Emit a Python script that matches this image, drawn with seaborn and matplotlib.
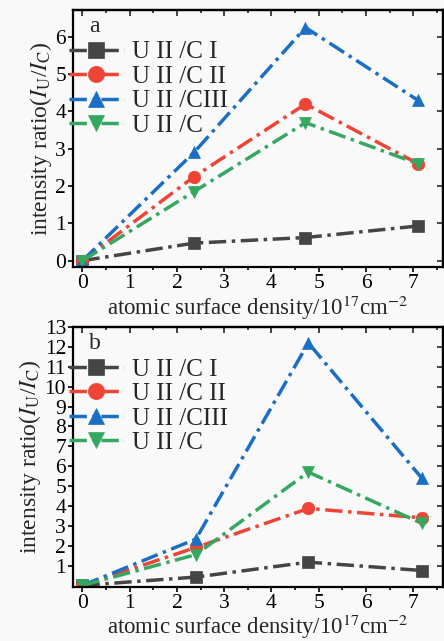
import numpy as np
import pandas as pd
import matplotlib
matplotlib.use("Agg")
import matplotlib.pyplot as plt
import seaborn as sns
from matplotlib.ticker import MultipleLocator

sns.set_theme(style="ticks")
plt.rcParams['font.family'] = ['Liberation Serif', 'DejaVu Serif']
plt.rcParams['mathtext.fontset'] = 'stix'

# ---- data ----
labels = ["U II /C I", "U II /C II", "U II /CIII", "U II /C"]
x_a = [0, 2.36, 4.72, 7.1]
a_c1 = [0, 0.47, 0.62, 0.93]
a_c2 = [0, 2.25, 4.2, 2.6]
a_c3 = [0, 2.9, 6.25, 4.3]
a_c = [0, 1.85, 3.7, 2.6]

x_b = [0, 2.4, 4.78, 7.18]
b_c1 = [0, 0.42, 1.17, 0.75]
b_c2 = [0, 1.91, 3.87, 3.4]
b_c3 = [0, 2.33, 12.2, 5.4]
b_c = [0, 1.55, 5.7, 3.12]

colors = ["#454545", "#ee4436", "#1a6fc4", "#34a860"]
markers = ["s", "o", "^", "v"]

xlabel = "atomic surface density/10$^{17}$cm$^{-2}$"
ylabel = "intensity ratio($I_{\\rm U}$/$I_{\\rm C}$)"

bg = "#f9f9f9"
fig = plt.figure(figsize=(4.44, 6.41), dpi=100, facecolor=bg)
ax_a = fig.add_axes([73/444, 1-267/641, 370/444, 257/641])
ax_b = fig.add_axes([73/444, 1-587/641, 370/444, 260/641])

def draw(ax, xs, series, ylim, yticks, panel, xlabelpad):
    ax.set_facecolor(bg)
    for vals, lab, col, mk in zip(series, labels, colors, markers):
        sns.lineplot(x=xs, y=vals, ax=ax, color=col, marker=mk, markersize=9,
                     markeredgecolor=col, markeredgewidth=0.5, linewidth=2.5,
                     linestyle=(0, (5, 1.6, 1.0, 1.6)), label=lab, legend=False)
    ax.set_xlim(-0.2, 7.63)
    ax.set_ylim(*ylim)
    ax.set_xticks(range(0, 8))
    ax.xaxis.set_minor_locator(MultipleLocator(0.5))
    ax.set_yticks(yticks)
    ax.tick_params(axis='both', which='both', labelsize=15.5, colors='black',
                   width=1.2, direction='out', pad=1.5)
    ax.tick_params(which='major', length=3.5)
    ax.tick_params(which='minor', length=2.5)
    # mirrored inward ticks on top and right
    top = ax.secondary_xaxis('top')
    top.set_xticks(range(0, 8))
    top.xaxis.set_minor_locator(MultipleLocator(0.5))
    top.tick_params(which='both', direction='in', labeltop=False, width=1.2)
    top.tick_params(which='major', length=4)
    top.tick_params(which='minor', length=2.5)
    right = ax.secondary_yaxis('right')
    right.set_yticks(yticks)
    right.tick_params(which='both', direction='in', labelright=False, width=1.2, length=4)
    for a in (ax, top, right):
        for s in a.spines.values():
            s.set_linewidth(1.6)
            s.set_color('black')
    ax.set_xlabel(xlabel, fontsize=16.5, labelpad=xlabelpad)
    ax.set_ylabel(ylabel, fontsize=17, labelpad=1)
    ax.text(0.044, 0.935, panel, transform=ax.transAxes, fontsize=17, va='center', ha='left')
    ax.legend(loc='upper left', bbox_to_anchor=(-0.012, 0.88), frameon=False,
              fontsize=18, handlelength=2.2, handletextpad=0.35, labelspacing=0.08,
              borderpad=0, borderaxespad=0, markerscale=1.3)

draw(ax_a, x_a, [a_c1, a_c2, a_c3, a_c], (-0.17, 6.72), range(0, 7), "a", 0.5)
draw(ax_b, x_b, [b_c1, b_c2, b_c3, b_c], (-0.08, 13), range(1, 14), "b", 0)

fig.savefig("out.png", dpi=100, facecolor=bg)
